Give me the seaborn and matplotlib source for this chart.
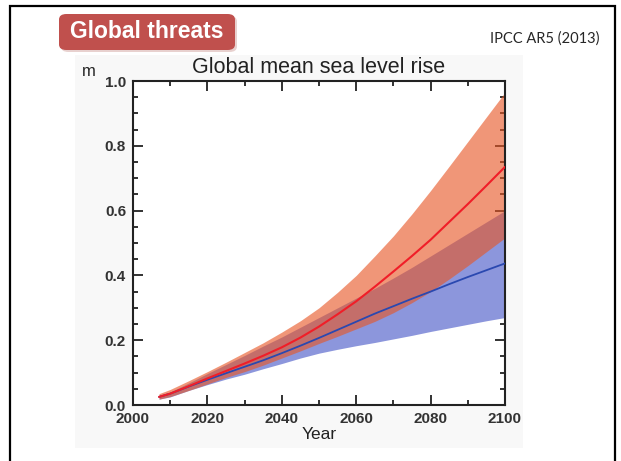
import matplotlib
matplotlib.use('Agg')

import matplotlib.pyplot as plt
from matplotlib.patches import Rectangle, FancyBboxPatch
from matplotlib.ticker import MultipleLocator
import seaborn as sns
import pandas as pd

# data (sea level rise, m)
years = [2007, 2010, 2015, 2020, 2025, 2030, 2035, 2040, 2045, 2050,
         2055, 2060, 2065, 2070, 2075, 2080, 2085, 2090, 2095, 2100]

rcp85_mean = [0.025, 0.035, 0.058, 0.082, 0.105, 0.128, 0.152, 0.178, 0.208, 0.242,
              0.28, 0.32, 0.365, 0.412, 0.46, 0.51, 0.565, 0.62, 0.677, 0.735]
rcp85_low = [0.018, 0.026, 0.045, 0.065, 0.085, 0.103, 0.123, 0.145, 0.167, 0.19,
             0.212, 0.235, 0.258, 0.285, 0.316, 0.35, 0.389, 0.43, 0.473, 0.516]
rcp85_high = [0.035, 0.048, 0.075, 0.103, 0.132, 0.162, 0.192, 0.225, 0.26, 0.30,
              0.348, 0.40, 0.46, 0.522, 0.59, 0.662, 0.737, 0.813, 0.889, 0.965]

rcp26_mean = [0.025, 0.035, 0.057, 0.078, 0.098, 0.118, 0.138, 0.16, 0.183, 0.207,
              0.232, 0.257, 0.282, 0.305, 0.328, 0.35, 0.373, 0.395, 0.416, 0.437]
rcp26_low = [0.018, 0.025, 0.045, 0.063, 0.08, 0.095, 0.112, 0.128, 0.145, 0.16,
             0.172, 0.183, 0.193, 0.204, 0.215, 0.227, 0.238, 0.249, 0.26, 0.27]
rcp26_high = [0.03, 0.04, 0.068, 0.097, 0.125, 0.153, 0.182, 0.21, 0.24, 0.27,
              0.30, 0.33, 0.36, 0.392, 0.425, 0.46, 0.495, 0.53, 0.565, 0.60]

x_ticks = [2000, 2020, 2040, 2060, 2080, 2100]
y_ticks = [0.0, 0.2, 0.4, 0.6, 0.8, 1.0]

df = pd.DataFrame({'Year': years, 'rcp85': rcp85_mean, 'rcp26': rcp26_mean})

sns.set_style('ticks')
plt.rcParams['font.family'] = ['Liberation Sans', 'DejaVu Sans']

W, H = 621, 461
fig = plt.figure(figsize=(W / 100, H / 100), dpi=100)
fig.patch.set_facecolor('white')

# faint grey of the pasted figure (behind the axes)
fig.add_artist(Rectangle((75 / W, 1 - 448 / H), 448 / W, 393 / H,
                         transform=fig.transFigure, facecolor='#f8f8f8',
                         edgecolor='none', zorder=-10))
# slide frame
fig.add_artist(Rectangle((10 / W, -0.05), 605 / W, 1.05 - 6 / H,
                         transform=fig.transFigure, fill=False,
                         edgecolor='black', linewidth=1.6, zorder=5))

# "Global threats" badge
fig.add_artist(FancyBboxPatch((61 / W, 1 - 52 / H), 176 / W, 36 / H,
                              boxstyle='round,pad=0,rounding_size=0.012',
                              transform=fig.transFigure, facecolor='#d9b3b0',
                              edgecolor='none', alpha=0.6))
fig.add_artist(FancyBboxPatch((59 / W, 1 - 50 / H), 176 / W, 36 / H,
                              boxstyle='round,pad=0,rounding_size=0.012',
                              transform=fig.transFigure, facecolor='#c0504d',
                              edgecolor='none'))
fig.text(147 / W, 1 - 32 / H, 'Global threats', color='white', fontsize=16.5,
         fontweight='bold', ha='center', va='center')
fig.text(545 / W, 1 - 39 / H, 'IPCC AR5 (2013)', fontsize=10.5,
         family=['Lato', 'DejaVu Sans'], ha='center', va='center')

ax = fig.add_axes([133 / W, 56 / H, 372 / W, 324 / H])
ax.set_facecolor('white')

ax.fill_between(years, rcp26_low, rcp26_high, color='#8c96dc', linewidth=0, zorder=1)
ax.fill_between(years, rcp85_low, rcp85_high, color='#e85625', alpha=0.62,
                linewidth=0, zorder=2)
sns.lineplot(data=df, x='Year', y='rcp26', color='#2a48b0', linewidth=1.3, ax=ax, zorder=3)
sns.lineplot(data=df, x='Year', y='rcp85', color='#f01e28', linewidth=1.5, ax=ax, zorder=4)

ax.set_xlim(2000, 2100)
ax.set_ylim(0, 1.0)
ax.set_xticks(x_ticks)
ax.set_yticks(y_ticks)
ax.set_yticklabels([f'{v:.1f}' for v in y_ticks])
ax.xaxis.set_minor_locator(MultipleLocator(10))
ax.yaxis.set_minor_locator(MultipleLocator(0.05))
ax.tick_params(which='both', direction='in', top=True, right=True,
               width=1.3, colors='#222222', labelsize=11, labelcolor='#333333')
ax.tick_params(which='major', length=7, pad=5)
ax.tick_params(which='minor', length=3.5)
for lbl in ax.get_xticklabels() + ax.get_yticklabels():
    lbl.set_fontweight('bold')
for s in ax.spines.values():
    s.set_linewidth(1.5)
    s.set_color('#222222')

ax.set_xlabel('Year', fontsize=12.5, labelpad=1, color='#222222')
ax.set_ylabel('')
ax.set_title('Global mean sea level rise', fontsize=15.5, pad=6, color='#222222')
fig.text(89 / W, 1 - 71 / H, 'm', fontsize=12, ha='center', va='center')

fig.savefig('out.png', dpi=100)
plt.close(fig)
